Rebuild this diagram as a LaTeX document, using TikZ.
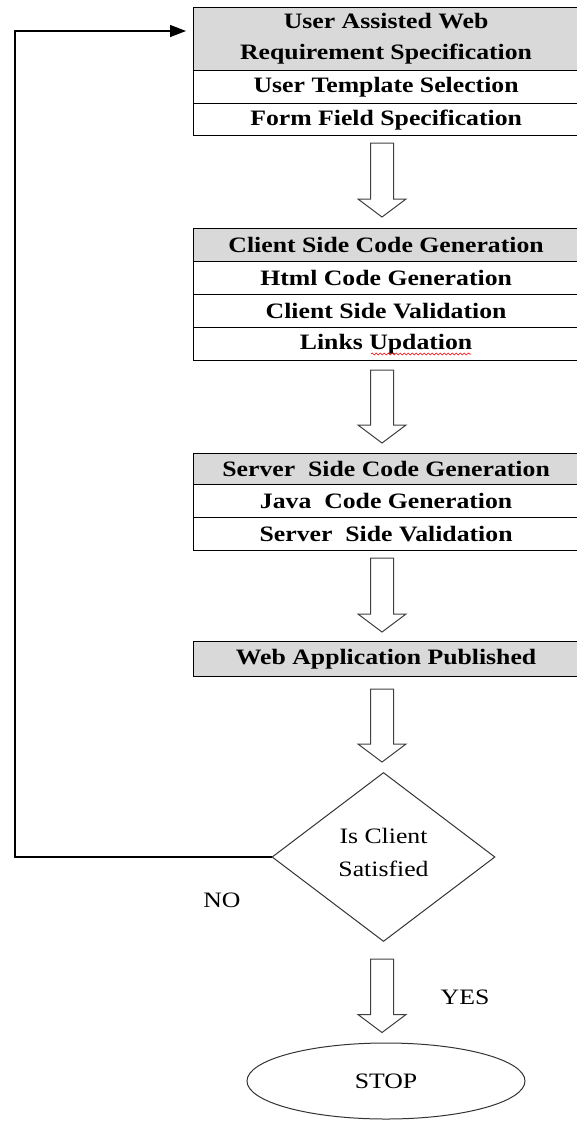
\documentclass[tikz,border=0pt]{standalone}
\usepackage{fontspec}
\setmainfont{Liberation Serif}[FakeStretch=1.17]
\usetikzlibrary{shapes.geometric,arrows.meta,decorations.pathmorphing,calc}
\definecolor{headgray}{RGB}{217,217,217}
\newcommand\blockarrow[4]{%
  \draw[blk] let \p1=(#1.south), \p2=(#2.north) in
    (370.5pt,\y1-#3) -- (393.5pt,\y1-#3) -- (393.5pt,\y2+#4+18pt) -- (406pt,\y2+#4+18pt)
    -- (382pt,\y2+#4) -- (358pt,\y2+#4+18pt) -- (370.5pt,\y2+#4+18pt) -- cycle;}
\begin{document}
\begin{tikzpicture}[x=1pt,y=-1pt,
  row/.style={draw, line width=1.2pt, minimum width=385pt, minimum height=33pt,
    inner sep=0pt, anchor=north west, align=center,
    font=\fontsize{22}{31}\selectfont\bfseries},
  head/.style={row, fill=headgray},
  blk/.style={draw=black!75, line width=1pt, fill=white, line join=miter},
  plain/.style={font=\fontsize{22}{33}\selectfont, align=center, inner sep=0pt},
  shapeline/.style={draw=black!80, line width=1pt}]
\useasboundingbox (0,0) rectangle (576,1122);
% top block
\node[head, minimum height=63pt] (t1) at (193,7) {User Assisted Web\\Requirement Specification};
\node[row] (t2) at (193,70) {User Template Selection};
\node[row, minimum height=32pt] (t3) at (193,103) {Form Field Specification};
% client block
\node[head] (c1) at (193,228) {Client Side Code Generation};
\node[row] (c2) at (193,261) {Html Code Generation};
\node[row] (c3) at (193,294) {Client Side Validation};
\node[row] (c4) at (193,327) {Links Updation};
\draw[red, line width=0.6pt, decorate, decoration={snake, amplitude=1pt, segment length=4pt}] (371,354) -- (471,354);
% server block
\node[head, minimum height=31pt] (s1) at (193,453) {Server\ \ Side Code Generation};
\node[row] (s2) at (193,484) {Java\ \ Code Generation};
\node[row] (s3) at (193,517) {Server\ \ Side Validation};
% published
\node[head, minimum height=35pt] (w) at (193,641) {Web Application Published};
% decision
\node[diamond, shapeline, minimum width=223pt, minimum height=169pt, inner sep=0pt,
  plain, text depth=10pt] (dia) at (383.5,857) {Is Client\\Satisfied};
\node[ellipse, shapeline, minimum width=278pt, minimum height=76pt, plain] (stop) at (386,1081) {STOP};
% block arrows
\blockarrow{t3}{c1}{7pt}{11pt}
\blockarrow{c4}{s1}{9pt}{10pt}
\blockarrow{s3}{w}{7pt}{9pt}
\blockarrow{w}{dia}{12pt}{10pt}
\blockarrow{dia}{stop}{17pt}{10pt}
% labels
\node[plain] (no) at (222,900) {NO};
\node[plain] (yes) at (465,997) {YES};
% loop back
\coordinate (lp) at (15,31);
\draw[line width=1.3pt, -{Triangle[length=16pt,width=12pt]}]
  (dia.west) -| (lp) -- ([xshift=-7pt]t1.west |- lp);
\end{tikzpicture}
\end{document}
